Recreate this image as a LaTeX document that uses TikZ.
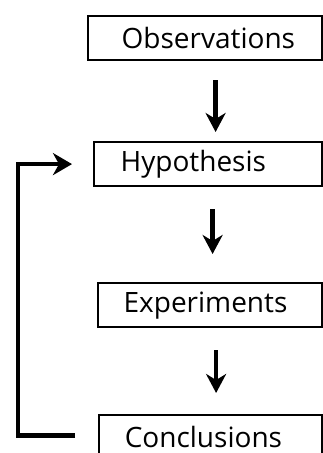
\documentclass[tikz,border=0pt]{standalone}
\usepackage{fontspec}
\setmainfont{Open Sans}
\usetikzlibrary{arrows.meta}
\begin{document}
\begin{tikzpicture}[x=1pt,y=-1pt,
  box/.style={draw, line width=2.2pt, anchor=north west, inner xsep=0pt, inner ysep=0pt,
    minimum height=44pt, align=left, font=\fontsize{28}{32}\selectfont},
  arr/.style={line width=4.5pt, -{Stealth[length=19pt,width=20pt,inset=6pt]}},
  feed/.style={line width=4.5pt, -{Stealth[length=19pt,width=22pt,inset=6pt]}}]
\useasboundingbox (0,0) rectangle (323,453);
\clip (0,0) rectangle (323,453);
\node[box, text width=234.5pt] (obs) at (86.5,14.5) {\hspace*{34pt}Observations};
\node[box, text width=228pt] (hyp) at (93,141) {\hspace*{26.5pt}Hypothesis};
\node[box, text width=224pt] (exp) at (97,282) {\hspace*{25.5pt}Experiments};
\node[box, text width=223.3pt] (conc) at (97.7,414) {\hspace*{26pt}Conclusions};
\draw[arr, shorten <=19.5pt, shorten >=9pt] ([xshift=10.75pt]obs.south) -- ([xshift=10.75pt]obs.south |- hyp.north);
\draw[arr, shorten <=22pt, shorten >=28pt] ([xshift=4.5pt]hyp.south) -- ([xshift=4.5pt]hyp.south |- exp.north);
\draw[arr, shorten <=22pt, shorten >=21pt] ([xshift=6pt]exp.south) -- ([xshift=6pt]exp.south |- conc.north);
\draw[feed] ([xshift=-22.7pt,yshift=1.5pt]conc.west) -- ++(-57pt,0) |- ([xshift=-21pt]hyp.west);
\end{tikzpicture}
\end{document}
